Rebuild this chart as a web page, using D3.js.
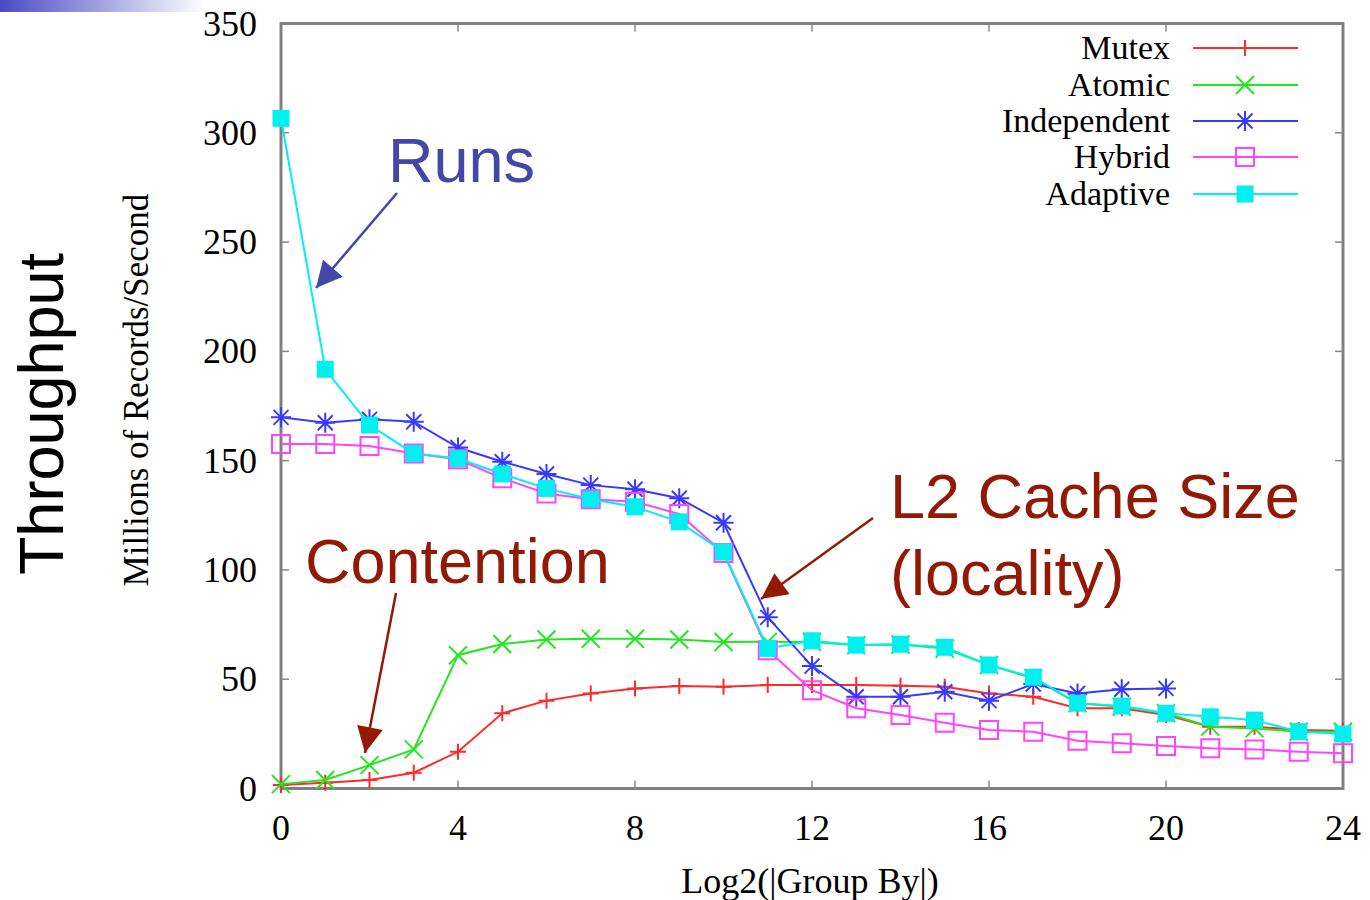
<!DOCTYPE html>
<html>
  <head>
    <meta charset="UTF-8" />
    <title>Throughput</title>
    <script src="https://d3js.org/d3.v7.min.js"></script>
    <style>
      body { margin: 0; background: #fff; }
      .tick-label { font-family: "Liberation Serif", "DejaVu Serif", serif; font-size: 36px; fill: #000; }
      .legend-label { font-family: "Liberation Serif", "DejaVu Serif", serif; font-size: 34px; fill: #000; }
      .note { font-family: "Liberation Sans", Arial, sans-serif; font-size: 63px; }
    </style>
  </head>
  <body>
    <svg id="chart" width="1370" height="900"></svg>

    <script>
      // x positions: log2 of group by size
      var groupLog = [0, 1, 2, 3, 4, 5, 6, 7, 8, 9, 10, 11, 12, 13, 14, 15, 16, 17, 18, 19, 20, 21, 22, 23, 24];

      var mutex = [1.6, 2.6, 3.9, 7.2, 16.8, 34.4, 40.2, 43.5, 45.8, 46.9, 46.5, 47.3, 47.3, 47.3, 47, 46.6, 43.5, 42, 36.7, 36.7, 33.6, 28.3, 28.3, 26.8, 26.4];
      var atomic = [2, 3.9, 10.7, 17.9, 61, 66.1, 68.2, 68.5, 68.5, 68.2, 67, 67.1, 67, 65.6, 65.9, 64, 56.5, 50.4, 39, 37.4, 34.4, 28.3, 27.5, 26, 26];
      var independent = [169.8, 167.3, 168.9, 167.8, 156, 149.5, 143.9, 138.8, 136.9, 132.8, 121.6, 78.3, 56, 42, 42, 44.3, 40.2, 47.8, 43.5, 45.4, 45.8];
      var hybrid = [157.6, 157.6, 156.7, 153.3, 150.6, 141.9, 135, 132.3, 131.2, 125.6, 107.7, 63.3, 45, 36.7, 33.6, 30.1, 26.8, 26, 21.9, 20.7, 19.4, 18.4, 17.9, 16.8, 16.1];
      var adaptive = [306.6, 191.8, 166.3, 153.3, 151, 143.9, 137.3, 132.3, 128.9, 122, 108.2, 64.1, 67.6, 65.6, 66, 64.6, 56.5, 50.9, 39, 37.7, 34.4, 32.8, 31.3, 26, 24.9];

      var seriesNames = ['Mutex', 'Atomic', 'Independent', 'Hybrid', 'Adaptive'];
      var seriesColors = ['#ff2a2a', '#22e622', '#3a3aff', '#ff44ff', '#00f0f0'];
      var seriesMarks = ['plus', 'cross', 'star', 'box', 'fillbox'];
      var seriesValues = [mutex, atomic, independent, hybrid, adaptive];

      var xTicks = [0, 4, 8, 12, 16, 20, 24];
      var yTicks = [0, 50, 100, 150, 200, 250, 300, 350];

      var svg = d3.select('#chart');

      // slide decoration at top-left
      var grad = svg.append('defs').append('linearGradient').attr('id', 'bar');
      grad.append('stop').attr('offset', '0%').attr('stop-color', '#4a4ac4');
      grad.append('stop').attr('offset', '100%').attr('stop-color', '#ffffff');
      svg.append('rect').attr('x', 0).attr('y', 0).attr('width', 205).attr('height', 12).attr('fill', 'url(#bar)');

      var x = d3.scaleLinear().domain([0, 24]).range([281, 1343]);
      var y = d3.scaleLinear().domain([0, 350]).range([788.5, 23.5]);

      // ticks (inward, on all four sides)
      var frame = svg.append('g').attr('stroke', '#888').attr('stroke-width', 1.5);
      xTicks.forEach(function (t) {
        frame.append('line').attr('x1', x(t)).attr('x2', x(t)).attr('y1', y(0)).attr('y2', y(0) - 8);
        frame.append('line').attr('x1', x(t)).attr('x2', x(t)).attr('y1', y(350)).attr('y2', y(350) + 8);
      });
      yTicks.forEach(function (t) {
        frame.append('line').attr('x1', x(0)).attr('x2', x(0) + 8).attr('y1', y(t)).attr('y2', y(t));
        frame.append('line').attr('x1', x(24)).attr('x2', x(24) - 8).attr('y1', y(t)).attr('y2', y(t));
      });
      svg.append('rect')
        .attr('x', x(0)).attr('y', y(350))
        .attr('width', x(24) - x(0)).attr('height', y(0) - y(350))
        .attr('fill', 'none').attr('stroke', '#808080').attr('stroke-width', 3);

      // tick labels
      svg.selectAll('.xl').data(xTicks).enter().append('text')
        .attr('class', 'tick-label')
        .attr('x', function (d) { return x(d); })
        .attr('y', 840)
        .attr('text-anchor', 'middle')
        .text(function (d) { return d; });
      svg.selectAll('.yl').data(yTicks).enter().append('text')
        .attr('class', 'tick-label')
        .attr('x', 257)
        .attr('y', function (d) { return y(d) + 12; })
        .attr('text-anchor', 'end')
        .text(function (d) { return d; });

      // axis titles
      svg.append('text').attr('class', 'tick-label')
        .attr('x', 810).attr('y', 893).attr('text-anchor', 'middle')
        .text('Log2(|Group By|)');
      svg.append('text').attr('class', 'tick-label')
        .style('font-size', '35px')
        .attr('transform', 'translate(148,390) rotate(-90)')
        .attr('text-anchor', 'middle')
        .text('Millions of Records/Second');
      svg.append('text').attr('class', 'note')
        .attr('transform', 'translate(63,414) rotate(-90)')
        .attr('text-anchor', 'middle').attr('fill', '#000')
        .text('Throughput');

      // marker shapes
      function drawMark(g, kind, cx, cy, color) {
        var p = d3.path();
        if (kind === 'plus' || kind === 'star') {
          var h = kind === 'plus' ? 8 : 10;
          p.moveTo(cx - h, cy); p.lineTo(cx + h, cy);
          p.moveTo(cx, cy - h); p.lineTo(cx, cy + h);
        }
        if (kind === 'cross' || kind === 'star') {
          var c = kind === 'cross' ? 9 : 7.5;
          p.moveTo(cx - c, cy - c); p.lineTo(cx + c, cy + c);
          p.moveTo(cx - c, cy + c); p.lineTo(cx + c, cy - c);
        }
        if (kind === 'box') {
          p.rect(cx - 9, cy - 9, 18, 18);
        }
        if (kind === 'fillbox') {
          g.append('rect').attr('x', cx - 8.5).attr('y', cy - 8.5).attr('width', 17).attr('height', 17)
            .attr('fill', color);
          return;
        }
        g.append('path').attr('d', p.toString()).attr('fill', 'none')
          .attr('stroke', color).attr('stroke-width', 2);
      }

      var line = d3.line()
        .x(function (d, i) { return x(groupLog[i]); })
        .y(function (d) { return y(d); });

      seriesValues.forEach(function (vals, s) {
        var g = svg.append('g');
        g.append('path').attr('d', line(vals)).attr('fill', 'none')
          .attr('stroke', seriesColors[s]).attr('stroke-width', 2);
        vals.forEach(function (v, i) {
          drawMark(g, seriesMarks[s], x(groupLog[i]), y(v), seriesColors[s]);
        });
      });

      // legend
      var legendRows = [48, 85, 121, 157, 194];
      seriesNames.forEach(function (name, s) {
        var g = svg.append('g');
        var ly = legendRows[s];
        g.append('text').attr('class', 'legend-label')
          .attr('x', 1170).attr('y', ly + 11).attr('text-anchor', 'end').text(name);
        g.append('line').attr('x1', 1193).attr('x2', 1298).attr('y1', ly).attr('y2', ly)
          .attr('stroke', seriesColors[s]).attr('stroke-width', 2);
        drawMark(g, seriesMarks[s], 1245, ly, seriesColors[s]);
      });

      // annotations with arrows
      var defs = svg.select('defs');
      function arrow(id, color) {
        defs.append('marker').attr('id', id)
          .attr('viewBox', '0 0 10 10').attr('refX', 10).attr('refY', 5)
          .attr('markerUnits', 'userSpaceOnUse')
          .attr('markerWidth', 32).attr('markerHeight', 26)
          .attr('orient', 'auto')
          .append('path').attr('d', 'M0,0L10,5L0,10Z').attr('fill', color);
      }
      arrow('blueHead', '#4247a8');
      arrow('redHead', '#921a05');

      var notes = [
        { text: ['Runs'], x: 388, y: [182], color: '#4247a8', from: [397, 193], to: [316, 288], head: 'blueHead' },
        { text: ['Contention'], x: 305, y: [583], color: '#921a05', from: [396, 593], to: [365, 753], head: 'redHead' },
        { text: ['L2 Cache Size', '(locality)'], x: 890, y: [518, 595], color: '#921a05', from: [873, 518], to: [761, 599], head: 'redHead' }
      ];
      notes.forEach(function (n) {
        n.text.forEach(function (t, i) {
          svg.append('text').attr('class', 'note').attr('x', n.x).attr('y', n.y[i])
            .attr('fill', n.color).text(t);
        });
        svg.append('line')
          .attr('x1', n.from[0]).attr('y1', n.from[1]).attr('x2', n.to[0]).attr('y2', n.to[1])
          .attr('stroke', n.color).attr('stroke-width', 2.5)
          .attr('marker-end', 'url(#' + n.head + ')');
      });
    </script>
  </body>
</html>
